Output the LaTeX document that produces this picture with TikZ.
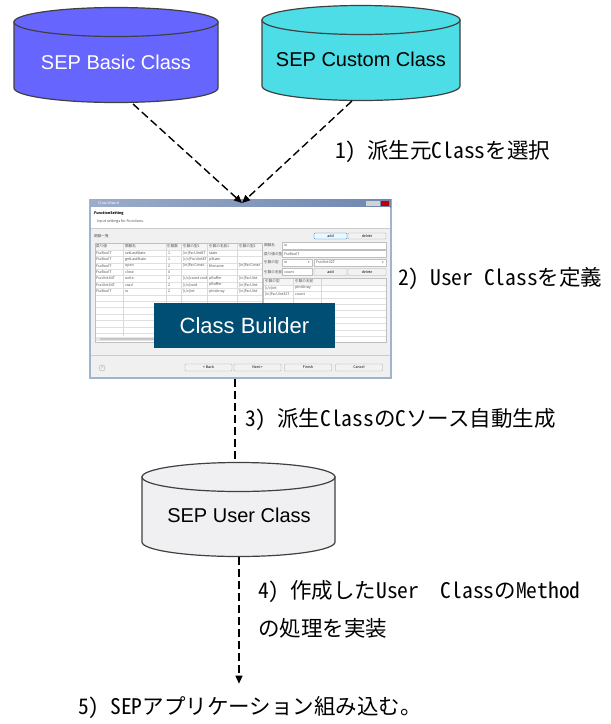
\documentclass[tikz,border=0pt]{standalone}
\usepackage{fontspec}
\setmainfont{Noto Sans CJK JP}
\newfontfamily\stepfont[RawFeature=+hwid]{Noto Sans CJK JP}
\newfontfamily\latinsans{Liberation Sans}
\newfontfamily\symfont{DejaVu Sans}
\usetikzlibrary{arrows.meta, positioning, calc}
\definecolor{sepbasic}{RGB}{102, 102, 255}
\definecolor{sepcustom}{RGB}{77, 221, 230}
\definecolor{sepuser}{RGB}{240, 240, 243}
\definecolor{drumedge}{RGB}{64, 64, 64}
\definecolor{builderblue}{RGB}{0, 78, 116}
\definecolor{winbar}{RGB}{35, 70, 135}
\definecolor{winface}{RGB}{240, 240, 240}
\definecolor{winedge}{RGB}{160, 180, 205}
\definecolor{wintext}{RGB}{80, 80, 80}
\tikzset{
  drumline/.style={draw=drumedge, line width=1.2pt},
  drumtext/.style={font=\latinsans\fontsize{20}{22}\selectfont, inner sep=0pt},
  steptext/.style={font=\stepfont\fontsize{21.5}{38}\selectfont, anchor=west, inner sep=0pt},
  flow/.style={line width=1.4pt, dash pattern=on 8pt off 4pt},
  flowarrow/.style={flow, -{Triangle[length=8pt, width=7pt]}},
  wintiny/.style={font=\fontsize{3.6}{4}\selectfont, text=wintext, inner sep=0pt, anchor=west},
  winbutton/.style={draw=gray!70, fill=gray!10, rounded corners=0.8pt, line width=0.4pt},
  winfield/.style={draw=gray!50, fill=white, line width=0.4pt},
}
\newcommand{\inout}{[i/o]}
\newcommand{\drum}[5]{% centre x, top centre y, x radius, height, fill
  \filldraw[drumline, fill=#5] (#1-#3,#2) -- (#1-#3,#2-#4)
    arc[start angle=180, end angle=360, x radius=#3, y radius=14.5] -- (#1+#3,#2) -- cycle;
  \filldraw[drumline, fill=#5] (#1,#2) ellipse[x radius=#3, y radius=14.5];
}

\begin{document}
\begin{tikzpicture}[x=1pt, y=1pt]
  \useasboundingbox (0,0) rectangle (611,-724);

  % source classes
  \drum{116}{-22}{102}{66}{sepbasic}
  \node[drumtext, text=white] (basic) at (116,-62) {SEP Basic Class};
  \drum{361}{-20}{99}{66}{sepcustom}
  \node[drumtext] (custom) at (361,-59) {SEP Custom Class};
  \coordinate (basicbot) at (133,-104);
  \coordinate (custombot) at (352,-101);

  % class wizard window
  \node[draw=winedge, fill=winface, line width=1.2pt, minimum width=301pt, minimum height=178pt, inner sep=0pt] (wizard) at (240.5,-289) {};
  \shade[left color=winbar!45!white, middle color=winbar, right color=winbar!65!white] (90,-199.6) rectangle (391,-207);
  \fill[gray!35] (366,-201) rectangle (380,-205.5);
  \fill[red!75!black] (380.5,-201) rectangle (389,-205.5);
  \node[wintiny, text=white] (wintitle) at (98,-203.3) {Class Wizard};
  \fill[white] (91,-207) rectangle (390,-228);
  \draw[gray!40, line width=0.4pt] (91,-228) -- (390,-228);
  \node[wintiny, text=black, font=\fontsize{3.6}{4}\selectfont\bfseries] (pagetitle) at (94,-213) {FunctionSetting};
  \node[wintiny] (pagehint) at (97,-221) {Input settings for Functions.};
  \node[wintiny] (listlabel) at (94,-236) {関数一覧};

  % function table
  \fill[white] (95,-243) rectangle (262,-342);
  \fill[gray!8] (95,-243) rectangle (262,-250);
  \begin{scope}
    \clip (95,-243) rectangle (262,-342);
    \foreach \y in {250, 256.4, 262.8, 269.2, 275.6, 282, 288.4, 294.8, 301.2, 307.6, 314, 320.4, 326.8, 333.2}
      \draw[gray!25, line width=0.3pt] (95,-\y) -- (262,-\y);
    \foreach \x in {123, 166, 181, 207, 237}
      \draw[gray!30, line width=0.3pt] (\x,-243) -- (\x,-336);
    \node[wintiny] (h1) at (96,-246.5) {戻り値};
    \node[wintiny] (h2) at (125,-246.5) {関数名};
    \node[wintiny] (h3) at (167,-246.5) {引数数};
    \node[wintiny] (h4) at (183,-246.5) {引数の型1};
    \node[wintiny] (h5) at (209,-246.5) {引数の名前1};
    \node[wintiny] (h6) at (239,-246.5) {引数の型2};
    \foreach \rt/\fn/\nr/\ta/\na/\tb [count=\i] in {
        FscBoolT/setLastState/1/[in]FscUInt8T/state/{},
        FscBoolT/getLastState/1/\inout FscUInt8T/pState/{},
        FscBoolT/open/2/[in]FscConst\dots/filename/[in]FscConst,
        FscBoolT/close/0/{}/{}/{},
        FscUInt64T/write/2/\inout const void/pBuffer/[in]FscUInt,
        FscUInt64T/read/2/\inout void/pBuffer/[in]FscUInt,
        FscBoolT/io/2/\inout int/pIntArray/[in]FscUInt} {
      \node[wintiny] (r\i a) at (96,-246.5-6.4*\i) {\rt};
      \node[wintiny] (r\i b) at (125,-246.5-6.4*\i) {\fn};
      \node[wintiny] (r\i c) at (168,-246.5-6.4*\i) {\nr};
      \node[wintiny] (r\i d) at (183,-246.5-6.4*\i) {\ta};
      \node[wintiny] (r\i e) at (209,-246.5-6.4*\i) {\na};
      \node[wintiny] (r\i f) at (239,-246.5-6.4*\i) {\tb};
    }
  \end{scope}
  \fill[gray!20] (96,-337) rectangle (261,-341);
  \fill[gray!45] (100,-338) rectangle (200,-340);
  \draw[gray!50, line width=0.4pt] (95,-243) rectangle (262,-342);

  % argument panel
  \node[winbutton, draw=cyan!60!blue, fill=cyan!8, minimum width=33pt, minimum height=6pt, inner sep=0pt, font=\fontsize{3.6}{4}\selectfont] (addfn) at (330.5,-236) {add};
  \node[winbutton, minimum width=38pt, minimum height=6pt, inner sep=0pt, font=\fontsize{3.6}{4}\selectfont] (delfn) at (367,-236) {delete};
  \draw[winfield] (282,-242) rectangle (386,-249);
  \draw[winfield] (282,-250.5) rectangle (386,-257.5);
  \draw[winfield] (282,-259) rectangle (312,-266);
  \draw[winfield] (314,-259) rectangle (386,-266);
  \draw[winfield] (282,-268.5) rectangle (312,-275.5);
  \node[wintiny] (f1) at (264,-245.5) {関数名};
  \node[wintiny] (f1v) at (284,-245.5) {io};
  \node[wintiny] (f2) at (264,-254) {戻り値の型};
  \node[wintiny] (f2v) at (284,-254) {FscBoolT};
  \node[wintiny] (f3) at (264,-262.5) {引数の型};
  \node[wintiny] (f3v) at (284,-262.5) {in};
  \node[wintiny] (f3w) at (316,-262.5) {FscUInt32T};
  \node[wintiny, font=\symfont\fontsize{3}{4}\selectfont] (f3m) at (308,-262.6) {▾};
  \node[wintiny, font=\symfont\fontsize{3}{4}\selectfont] (f3n) at (382,-262.6) {▾};
  \node[wintiny] (f4) at (264,-272) {引数の名前};
  \node[wintiny] (f4v) at (284,-272) {count};
  \node[winbutton, minimum width=33pt, minimum height=7pt, inner sep=0pt, font=\fontsize{3.6}{4}\selectfont] (addarg) at (330.5,-272) {add};
  \node[winbutton, minimum width=38pt, minimum height=7pt, inner sep=0pt, font=\fontsize{3.6}{4}\selectfont] (delarg) at (367,-272) {delete};
  \fill[white] (263,-278) rectangle (386,-342);
  \fill[gray!8] (263,-278) rectangle (386,-285);
  \foreach \y in {285, 291.4, 297.8, 304.2, 310.6, 317, 323.4, 329.8, 336.2}
    \draw[gray!25, line width=0.3pt] (263,-\y) -- (386,-\y);
  \foreach \x in {293, 321}
    \draw[gray!30, line width=0.3pt] (\x,-278) -- (\x,-342);
  \draw[gray!50, line width=0.4pt] (263,-278) rectangle (386,-342);
  \node[wintiny] (a0) at (265,-281.5) {引数の型};
  \node[wintiny] (a0b) at (295,-281.5) {引数の名前};
  \node[wintiny] (a1) at (265,-288) {\inout int};
  \node[wintiny] (a1b) at (295,-288) {pIntArray};
  \node[wintiny] (a2) at (265,-294.5) {[in]FscUInt32T};
  \node[wintiny] (a2b) at (295,-294.5) {count};

  % wizard buttons
  \draw[gray!40, line width=0.4pt] (91,-355) -- (390,-355);
  \node[draw=gray!60, circle, inner sep=0pt, minimum size=6pt, font=\fontsize{3.6}{4}\selectfont, text=gray] (help) at (102,-368) {?};
  \node[winbutton, minimum width=47pt, minimum height=7pt, inner sep=0pt, font=\fontsize{3.6}{4}\selectfont] (back) at (208.5,-367.5) {< Back};
  \node[winbutton, minimum width=47pt, minimum height=7pt, inner sep=0pt, font=\fontsize{3.6}{4}\selectfont] (next) at (257.5,-367.5) {Next >};
  \node[winbutton, minimum width=47pt, minimum height=7pt, inner sep=0pt, font=\fontsize{3.6}{4}\selectfont] (finish) at (308,-367.5) {Finish};
  \node[winbutton, minimum width=47pt, minimum height=7pt, inner sep=0pt, font=\fontsize{3.6}{4}\selectfont] (cancel) at (359,-367.5) {Cancel};

  % builder label
  \node[fill=builderblue, text=white, minimum width=181pt, minimum height=45pt, inner sep=0pt,
        font=\latinsans\fontsize{22}{26}\selectfont] (builder) at (244.5,-325.5) {Class Builder};

  % user class
  \coordinate (usertop) at (235,-463);
  \draw[flow] (wizard.south -| usertop) -- (usertop);
  \drum{238.5}{-477}{96.5}{65}{sepuser}
  \node[drumtext] (user) at (239,-515) {SEP User Class};
  \coordinate (userbot) at (239,-557);

  % steps
  \coordinate (wiztop) at (242,-203);
  \draw[flowarrow] (basicbot) -- (wiztop);
  \draw[flowarrow] (custombot) -- (wiztop);
  \node[steptext] (step1) at (335,-152) {1) 派生元Classを選択};
  \node[steptext] (step2) at (398,-279) {2) User Classを定義};
  \node[steptext] (step3) at (245,-420) {3) 派生ClassのCソース自動生成};
  \node[steptext, anchor=north west, align=left] (step4) at (258,-580) {4) 作成したUser\ \ ClassのMethod\\の処理を実装};
  \node[steptext] (step5) at (78,-708) {5) SEPアプリケーション組み込む。};
  \draw[flowarrow, shorten >=13pt] (userbot) -- (userbot |- step5.north);
\end{tikzpicture}
\end{document}
